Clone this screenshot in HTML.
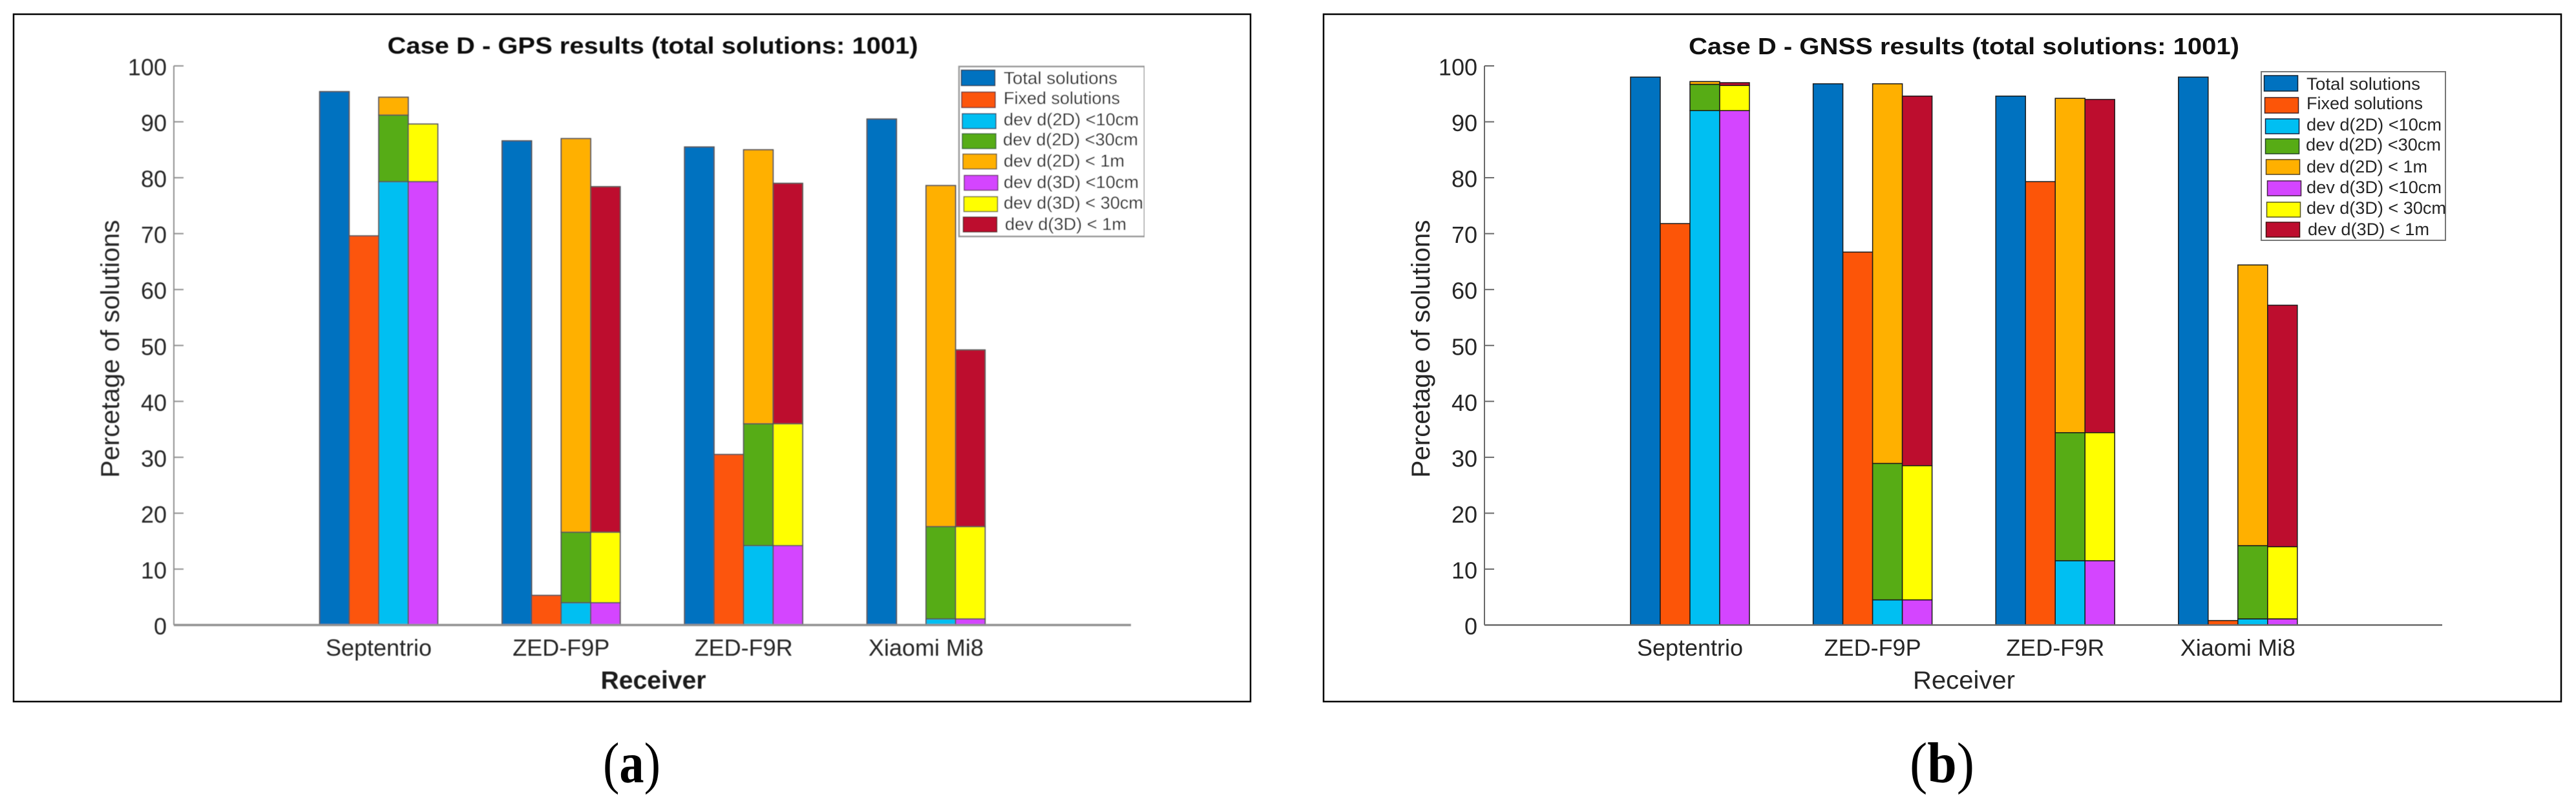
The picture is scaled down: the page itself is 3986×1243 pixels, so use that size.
<!DOCTYPE html>
<html lang="en">
<head>
<meta charset="utf-8">
<title>Case D - GPS and GNSS results</title>
<style>
html,body{margin:0;padding:0;background:#fff;width:3986px;height:1243px;overflow:hidden}
svg{display:block}
text{font-family:"Liberation Sans",Arial,sans-serif;fill:#262626}
.ttl{font-size:36px;font-weight:bold;fill:#111;text-anchor:middle}
.xl{font-size:39px;text-anchor:middle}
.yl{font-size:40px;text-anchor:middle}
.tick{font-size:36px}
.leg{font-size:27px}
.cap{font-family:"Liberation Serif",serif;font-size:89px;fill:#000}
</style>
</head>
<body>
<svg id="figure" xmlns="http://www.w3.org/2000/svg" width="3986" height="1243" viewBox="0 0 3986 1243">
<defs><filter id="soft" x="0" y="0" width="100%" height="100%"><feGaussianBlur stdDeviation="0.6"/></filter></defs>
<rect width="3986" height="1243" fill="#fff"/>

<g id="panel-a">
  <rect x="21" y="22" width="1914" height="1064" fill="#fff" stroke="#000" stroke-width="2.5"/>
  <g filter="url(#soft)">
  <text class="ttl" x="1010" y="83" textLength="821" lengthAdjust="spacingAndGlyphs">Case D - GPS results (total solutions: 1001)</text>
  <text class="xl" x="1011" y="1066" font-weight="bold" style="font-weight:bold;fill:#1a1a1a" textLength="163" lengthAdjust="spacingAndGlyphs">Receiver</text>
  <text class="yl" transform="translate(184,540) rotate(-90)" textLength="399" lengthAdjust="spacingAndGlyphs">Percetage of solutions</text>
  <g id="plot-a"></g>
  <g>
    <rect x="1484" y="103" width="287" height="263" fill="#fff" stroke="#999" stroke-width="2.5"/>
    <g><rect x="1487.5" y="108.5" width="52" height="24" fill="#0072c0" stroke="#234" stroke-width="1.5"/><text class="leg" x="1553" y="130" textLength="176" lengthAdjust="spacingAndGlyphs">Total solutions</text></g>
    <g><rect x="1488" y="142.5" width="52" height="24" fill="#fc5508" stroke="#633" stroke-width="1.5"/><text class="leg" x="1553" y="161" textLength="180" lengthAdjust="spacingAndGlyphs">Fixed solutions</text></g>
    <g><rect x="1489" y="176" width="52" height="23" fill="#00bff2" stroke="#246" stroke-width="1.5"/><text class="leg" x="1553" y="194" textLength="209" lengthAdjust="spacingAndGlyphs">dev d(2D) &lt;10cm</text></g>
    <g><rect x="1489" y="207" width="52" height="23" fill="#57ac15" stroke="#363" stroke-width="1.5"/><text class="leg" x="1552" y="225" textLength="209" lengthAdjust="spacingAndGlyphs">dev d(2D) &lt;30cm</text></g>
    <g><rect x="1490" y="238.5" width="52" height="23" fill="#ffb000" stroke="#653" stroke-width="1.5"/><text class="leg" x="1553" y="258" textLength="187" lengthAdjust="spacingAndGlyphs">dev d(2D) &lt; 1m</text></g>
    <g><rect x="1492" y="271.5" width="52" height="23" fill="#d445ff" stroke="#636" stroke-width="1.5"/><text class="leg" x="1553" y="291" textLength="209" lengthAdjust="spacingAndGlyphs">dev d(3D) &lt;10cm</text></g>
    <g><rect x="1491.5" y="304.5" width="52" height="23" fill="#ffff00" stroke="#663" stroke-width="1.5"/><text class="leg" x="1553" y="323" textLength="216" lengthAdjust="spacingAndGlyphs">dev d(3D) &lt; 30cm</text></g>
    <g><rect x="1490.5" y="336" width="52" height="23" fill="#bd0d2e" stroke="#522" stroke-width="1.5"/><text class="leg" x="1555" y="356" textLength="188" lengthAdjust="spacingAndGlyphs">dev d(3D) &lt; 1m</text></g>
  </g>
  </g>
  <text class="cap" x="933" y="1211" textLength="89" lengthAdjust="spacingAndGlyphs">(<tspan font-weight="bold">a</tspan>)</text>
</g>

<g id="panel-b">
  <rect x="2048" y="22" width="1915" height="1064" fill="#fff" stroke="#000" stroke-width="2.5"/>
  <text class="ttl" x="3039" y="84" textLength="852" lengthAdjust="spacingAndGlyphs">Case D - GNSS results (total solutions: 1001)</text>
  <text class="xl" x="3039" y="1066" textLength="158" lengthAdjust="spacingAndGlyphs">Receiver</text>
  <text class="yl" transform="translate(2212,540) rotate(-90)" textLength="399" lengthAdjust="spacingAndGlyphs">Percetage of solutions</text>
  <g id="plot-b"></g>
  <g>
    <rect x="3499" y="111" width="285" height="261" fill="#fff" stroke="#777" stroke-width="2"/>
    <g><rect x="3503.5" y="117" width="52" height="24" fill="#0072c0" stroke="#123" stroke-width="1.5"/><text class="leg" x="3569" y="139" textLength="176" lengthAdjust="spacingAndGlyphs">Total solutions</text></g>
    <g><rect x="3504.5" y="151" width="52" height="24" fill="#fc5508" stroke="#422" stroke-width="1.5"/><text class="leg" x="3569" y="169" textLength="180" lengthAdjust="spacingAndGlyphs">Fixed solutions</text></g>
    <g><rect x="3505.5" y="184" width="52" height="23" fill="#00bff2" stroke="#124" stroke-width="1.5"/><text class="leg" x="3569" y="202" textLength="209" lengthAdjust="spacingAndGlyphs">dev d(2D) &lt;10cm</text></g>
    <g><rect x="3505.5" y="215" width="52" height="23" fill="#57ac15" stroke="#242" stroke-width="1.5"/><text class="leg" x="3568" y="233" textLength="209" lengthAdjust="spacingAndGlyphs">dev d(2D) &lt;30cm</text></g>
    <g><rect x="3506.5" y="247" width="52" height="23" fill="#ffb000" stroke="#542" stroke-width="1.5"/><text class="leg" x="3569" y="267" textLength="187" lengthAdjust="spacingAndGlyphs">dev d(2D) &lt; 1m</text></g>
    <g><rect x="3508.5" y="280" width="52" height="23" fill="#d445ff" stroke="#424" stroke-width="1.5"/><text class="leg" x="3569" y="299" textLength="209" lengthAdjust="spacingAndGlyphs">dev d(3D) &lt;10cm</text></g>
    <g><rect x="3507.5" y="313" width="52" height="23" fill="#ffff00" stroke="#552" stroke-width="1.5"/><text class="leg" x="3569" y="331" textLength="216" lengthAdjust="spacingAndGlyphs">dev d(3D) &lt; 30cm</text></g>
    <g><rect x="3506.5" y="344" width="52" height="23" fill="#bd0d2e" stroke="#411" stroke-width="1.5"/><text class="leg" x="3571" y="364" textLength="188" lengthAdjust="spacingAndGlyphs">dev d(3D) &lt; 1m</text></g>
  </g>
  <text class="cap" x="2955" y="1211" textLength="100" lengthAdjust="spacingAndGlyphs">(<tspan font-weight="bold">b</tspan>)</text>
</g>
</svg>

<script>
const categories = ["Septentrio", "ZED-F9P", "ZED-F9R", "Xiaomi Mi8"];
const yTickLabels = [0, 10, 20, 30, 40, 50, 60, 70, 80, 90, 100];

// GPS panel: percentages, stacked series are cumulative levels
const gpsTotal = [95.4, 86.6, 85.5, 90.5];
const gpsFixed = [69.6, 5.3, 30.5, 0];
const gps2d10 = [79.3, 4.0, 14.2, 1.1];
const gps2d30 = [91.2, 16.6, 36.0, 17.6];
const gps2d1m = [94.4, 87.0, 85.0, 78.6];
const gps3d10 = [79.3, 4.0, 14.2, 1.1];
const gps3d30 = [89.6, 16.6, 36.0, 17.6];
const gps3d1m = [89.6, 78.4, 79.0, 49.2];

// GNSS panel: percentages, stacked series are cumulative levels
const gnssTotal = [98.0, 96.8, 94.6, 98.0];
const gnssFixed = [71.8, 66.7, 79.3, 0.8];
const gnss2d10 = [92.0, 4.5, 11.5, 1.1];
const gnss2d30 = [96.7, 28.9, 34.4, 14.2];
const gnss2d1m = [97.2, 96.8, 94.2, 64.4];
const gnss3d10 = [92.0, 4.5, 11.5, 1.1];
const gnss3d30 = [96.5, 28.5, 34.4, 14.0];
const gnss3d1m = [97.0, 94.6, 94.0, 57.2];

const SVGNS = 'http://www.w3.org/2000/svg';

function shape(parent, tag, attrs) {
  const node = document.createElementNS(SVGNS, tag);
  for (const k in attrs) node.setAttribute(k, attrs[k]);
  parent.appendChild(node);
  return node;
}

function drawPanel(opts) {
  const parent = document.getElementById(opts.target);
  const prefix = opts.prefix;
  const yAxis = function (v) { return opts.yZero - v * opts.yUnit; };
  const xAxis = function (i) { return opts.xFirst + i * opts.xStep; };
  const w = opts.barWidth;

  function bar(groupIndex, slot, low, high, fill, name) {
    if (high - low <= 0) return;
    const el = shape(parent, 'rect', {
      x: xAxis(groupIndex) + slot * w,
      y: yAxis(high),
      width: w,
      height: yAxis(low) - yAxis(high),
      fill: fill,
      stroke: opts.edge,
      'stroke-width': opts.edgeWidth
    });
    
    
  }

  categories.forEach(function (label, i) {
    bar(i, -2, 0, opts.total[i], '#0072c0', 'total');
    bar(i, -1, 0, opts.fixed[i], '#fc5508', 'fixed');
    bar(i, 0, 0, opts.d2a[i], '#00bff2', '2d-10cm');
    bar(i, 0, opts.d2a[i], opts.d2b[i], '#57ac15', '2d-30cm');
    bar(i, 0, opts.d2b[i], opts.d2c[i], '#ffb000', '2d-1m');
    bar(i, 1, 0, opts.d3a[i], '#d445ff', '3d-10cm');
    bar(i, 1, opts.d3a[i], opts.d3b[i], '#ffff00', '3d-30cm');
    bar(i, 1, opts.d3b[i], opts.d3c[i], '#bd0d2e', '3d-1m');

    const lab = shape(parent, 'text', {
      x: xAxis(i), y: opts.yZero + 47.5, 'text-anchor': 'middle', 'class': 'tick'
    });
    
    
    lab.textContent = label;
  });

  const yLine = shape(parent, 'line', {
    x1: opts.axisLeft, x2: opts.axisLeft, y1: yAxis(100), y2: yAxis(0),
    stroke: opts.axis, 'stroke-width': 2
  });
  
  

  const xLine = shape(parent, 'line', {
    x1: opts.axisLeft, x2: opts.axisRight, y1: yAxis(0), y2: yAxis(0),
    stroke: opts.axis, 'stroke-width': opts.baseWidth
  });
  
  

  yTickLabels.forEach(function (v) {
    const t = shape(parent, 'line', {
      x1: opts.axisLeft, x2: opts.axisLeft + 15, y1: yAxis(v), y2: yAxis(v),
      stroke: opts.axis, 'stroke-width': 2
    });
    
    

    const lab = shape(parent, 'text', {
      x: opts.axisLeft - 11, y: yAxis(v) + 14.5, 'text-anchor': 'end', 'class': 'tick'
    });
    
    
    lab.textContent = v;
  });
}

drawPanel({
  target: 'plot-a', prefix: 'gps',
  xFirst: 586, xStep: 282.3, barWidth: 45.7, yZero: 967.5, yUnit: 8.655,
  axisLeft: 269, axisRight: 1750,
  edge: '#555', edgeWidth: 1.8, axis: '#909090', baseWidth: 3.5,
  total: gpsTotal, fixed: gpsFixed,
  d2a: gps2d10, d2b: gps2d30, d2c: gps2d1m,
  d3a: gps3d10, d3b: gps3d30, d3c: gps3d1m
});

drawPanel({
  target: 'plot-b', prefix: 'gnss',
  xFirst: 2615, xStep: 282.6, barWidth: 46, yZero: 967.5, yUnit: 8.655,
  axisLeft: 2297, axisRight: 3779,
  edge: '#1a1a1a', edgeWidth: 1.5, axis: '#6a6a6a', baseWidth: 2.5,
  total: gnssTotal, fixed: gnssFixed,
  d2a: gnss2d10, d2b: gnss2d30, d2c: gnss2d1m,
  d3a: gnss3d10, d3b: gnss3d30, d3c: gnss3d1m
});
</script>
</body>
</html>
